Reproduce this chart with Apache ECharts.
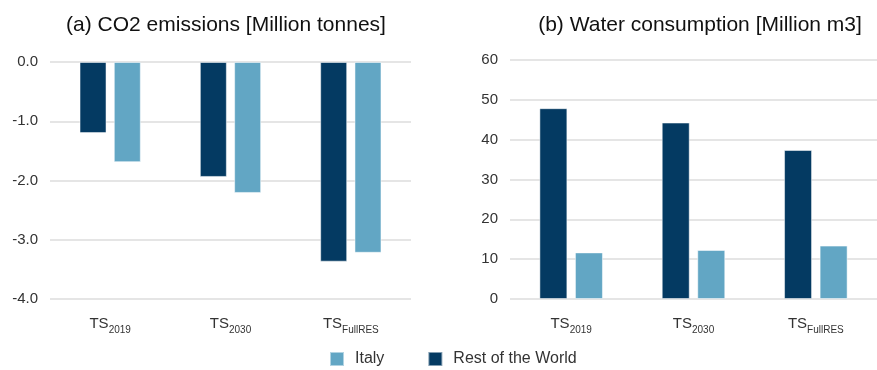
<!DOCTYPE html>
<html>
<head>
<meta charset="utf-8">
<script src="https://cdn.jsdelivr.net/npm/echarts@6/dist/echarts.min.js"></script>
<style>
  html, body { margin: 0; padding: 0; background: #fff; }
  #chart { width: 877px; height: 370px; }
</style>
</head>
<body>
<div id="chart"></div>
<script>
// categories: "TS" + subscript
const categories = ['TS2019', 'TS2030', 'TSFullRES']
const subs = ['2019', '2030', 'FullRES']

// (a) CO2 emissions [Million tonnes]
const co2Rest = [-1.2, -1.94, -3.37]
const co2Italy = [-1.69, -2.21, -3.22]

// (b) Water consumption [Million m3]
const waterRest = [47.9, 44.3, 37.4]
const waterItaly = [11.7, 12.3, 13.4]

const co2Ticks = { min: -4, max: 0, interval: 1 }
const waterTicks = { min: 0, max: 60, interval: 10 }

const fontFamily = 'Liberation Sans, Arial, sans-serif'
const darkBlue = '#043a62'
const lightBlue = '#62a6c4'
const textColor = '#333'

let chart = echarts.init(document.getElementById('chart'))

function xAxisOf(gridIndex) {
  return {
    type: 'category',
    gridIndex: gridIndex,
    data: categories,
    axisLine: { show: false, onZero: false },
    axisTick: { show: false },
    axisLabel: {
      interval: 0,
      margin: 14,
      formatter: function (v, i) {
        return '{m|TS}{s|' + subs[i] + '}'
      },
      rich: {
        m: { fontSize: 15, color: textColor, fontFamily: fontFamily, verticalAlign: 'bottom', lineHeight: 18 },
        s: { fontSize: 10, color: textColor, fontFamily: fontFamily, verticalAlign: 'bottom', lineHeight: 12, padding: [0, 0, -4, 0] }
      }
    }
  }
}

function yAxisOf(gridIndex, ticks, digits) {
  return {
    type: 'value',
    gridIndex: gridIndex,
    min: ticks.min,
    max: ticks.max,
    interval: ticks.interval,
    axisLine: { show: false },
    axisTick: { show: false },
    splitLine: { lineStyle: { color: '#dcdcdc', width: 1.5 } },
    axisLabel: {
      margin: 12,
      fontSize: 15,
      color: textColor,
      fontFamily: fontFamily,
      formatter: v => v.toFixed(digits)
    }
  }
}

function barOf(name, color, data, idx, width) {
  return {
    name: name,
    type: 'bar',
    xAxisIndex: idx,
    yAxisIndex: idx,
    barWidth: width,
    barGap: '27%',
    itemStyle: { color: color, borderColor: 'rgba(255,255,255,0.5)', borderWidth: 1 },
    data: data
  }
}

let option = {
  animation: false,
  title: [
    {
      text: '(a) CO2 emissions [Million tonnes]',
      left: 221,
      textAlign: 'center',
      top: 10,
      textStyle: { fontSize: 21, fontWeight: 'normal', color: '#111', fontFamily: fontFamily }
    },
    {
      text: '(b) Water consumption [Million m3]',
      left: 695,
      textAlign: 'center',
      top: 10,
      textStyle: { fontSize: 21, fontWeight: 'normal', color: '#111', fontFamily: fontFamily }
    }
  ],
  legend: {
    data: ['Italy', 'Rest of the World'],
    icon: 'rect',
    itemWidth: 14,
    itemHeight: 14,
    itemGap: 43,
    padding: 0,
    top: 351,
    left: 329,
    textStyle: { fontSize: 16, color: textColor, fontFamily: fontFamily, padding: [0, 0, 0, 6] }
  },
  grid: [
    { left: 50, right: 466, top: 62, bottom: 71 },
    { left: 510, right: 0, top: 60, bottom: 71 }
  ],
  xAxis: [xAxisOf(0), xAxisOf(1)],
  yAxis: [yAxisOf(0, co2Ticks, 1), yAxisOf(1, waterTicks, 0)],
  series: [
    barOf('Rest of the World', darkBlue, co2Rest, 0, 27),
    barOf('Italy', lightBlue, co2Italy, 0, 27),
    barOf('Rest of the World', darkBlue, waterRest, 1, 28),
    barOf('Italy', lightBlue, waterItaly, 1, 28)
  ]
}

chart.setOption(option)
</script>
</body>
</html>
